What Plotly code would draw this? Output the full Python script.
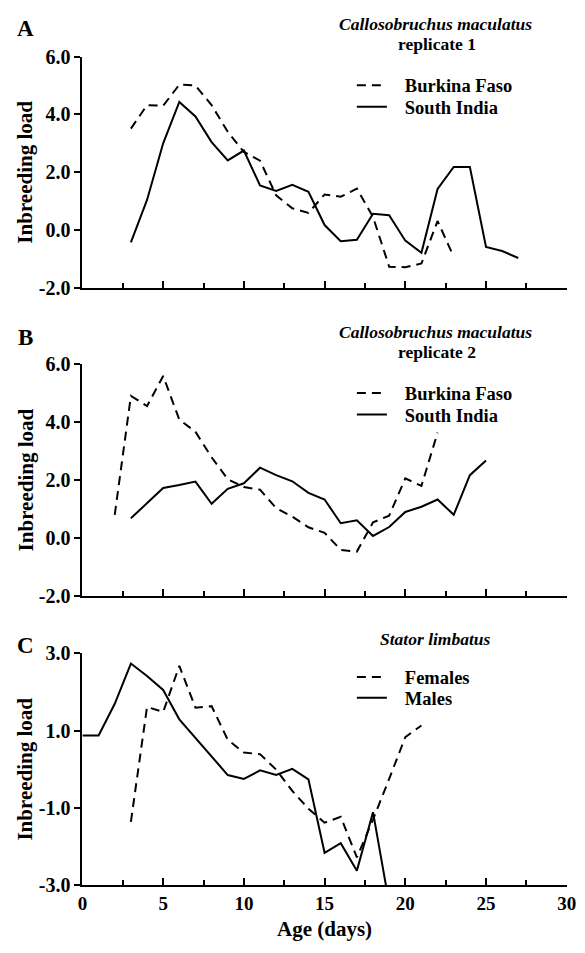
import plotly.graph_objects as go

# ---------------- data ----------------
a_bf_days = list(range(3, 24))
a_bf_vals = [3.51, 4.32, 4.30, 5.03, 5.00, 4.32, 3.40, 2.70, 2.40, 1.20, 0.75,
             0.59, 1.23, 1.15, 1.43, 0.45, -1.27, -1.29, -1.16, 0.31, -0.93]
a_si_days = list(range(3, 28))
a_si_vals = [-0.43, 1.04, 3.00, 4.43, 3.93, 3.04, 2.41, 2.75, 1.54, 1.35, 1.56,
             1.32, 0.17, -0.39, -0.34, 0.56, 0.51, -0.37, -0.79, 1.42, 2.18,
             2.18, -0.59, -0.73, -0.97]

b_bf_days = list(range(2, 23))
b_bf_vals = [0.80, 4.91, 4.56, 5.60, 4.09, 3.67, 2.79, 2.03, 1.76, 1.67, 1.03,
             0.74, 0.37, 0.18, -0.41, -0.47, 0.54, 0.77, 2.06, 1.80, 3.64]
b_si_days = list(range(3, 26))
b_si_vals = [0.68, 1.20, 1.73, 1.83, 1.95, 1.18, 1.70, 1.89, 2.43, 2.17, 1.96,
             1.56, 1.33, 0.51, 0.61, 0.07, 0.38, 0.90, 1.08, 1.33, 0.80, 2.17, 2.68]

c_f_days = list(range(3, 22))
c_f_vals = [-1.36, 1.61, 1.48, 2.67, 1.59, 1.63, 0.76, 0.43, 0.39, -0.01, -0.56,
            -1.02, -1.38, -1.23, -2.28, -1.30, -0.25, 0.83, 1.13]
c_m_days = list(range(0, 20))
c_m_vals = [0.87, 0.87, 1.69, 2.73, 2.41, 2.05, 1.29, 0.81, 0.31, -0.15, -0.25,
            -0.03, -0.15, 0.01, -0.26, -2.16, -1.91, -2.62, -1.11, -3.47]

ab_yticks = [-2, 0, 2, 4, 6]
ab_yticktext = ["-2.0", "0.0", "2.0", "4.0", "6.0"]
c_yticks = [-3, -1, 1, 3]
c_yticktext = ["-3.0", "-1.0", "1.0", "3.0"]
x_ticks = [0, 5, 10, 15, 20, 25, 30]
x_ticktext = ["0", "5", "10", "15", "20", "25", "30"]

# ---------------- layout helpers ----------------
W, H = 585, 953
FONT = "Liberation Serif"


def px(x):
    return x / W


def py(y):
    return 1 - y / H


x_dom = [px(79.5), px(576.5)]
dom_a = [py(283.3), py(46.7)]
dom_b = [py(598.7), py(361.7)]
dom_c = [py(895.0), py(657.3)]

dash = "9px,6px"
lw = 2.0
PAD = "\u2002\u2009"

fig = go.Figure()

series = [
    (a_bf_days, a_bf_vals, "Burkina Faso", dash, "x", "y", "legend"),
    (a_si_days, a_si_vals, "South India", "solid", "x", "y", "legend2"),
    (b_bf_days, b_bf_vals, "Burkina Faso", dash, "x2", "y2", "legend3"),
    (b_si_days, b_si_vals, "South India", "solid", "x2", "y2", "legend4"),
    (c_f_days, c_f_vals, "Females", dash, "x3", "y3", "legend5"),
    (c_m_days, c_m_vals, "Males", "solid", "x3", "y3", "legend6"),
]
for xs, ys, name, d, xa, ya, lg in series:
    fig.add_trace(go.Scatter(x=xs, y=ys, mode="lines", name=PAD + name,
                             line=dict(color="black", width=lw, dash=d),
                             xaxis=xa, yaxis=ya, legend=lg))

tickfont = dict(family=FONT, size=20, color="black", weight="bold")
xtickfont = dict(family=FONT, size=19, color="black", weight="bold")


def xaxis(anchor, labels):
    return dict(domain=x_dom, anchor=anchor, range=[0, 30], showline=True,
                linecolor="black", linewidth=2, showgrid=False, zeroline=False,
                ticks="inside", ticklen=7, tickwidth=2, tickcolor="black",
                tickvals=x_ticks, ticktext=x_ticktext, showticklabels=labels,
                tickfont=xtickfont, ticklabelstandoff=0, ticklabeloverflow="allow",
                minor=dict(ticks="inside", dtick=2.5, tick0=0, ticklen=5,
                           tickwidth=2, tickcolor="black"),
                fixedrange=True)


def yaxis(domain, anchor, rng, vals, text):
    return dict(domain=domain, anchor=anchor, range=rng, showline=True,
                linecolor="black", linewidth=2, showgrid=False, zeroline=False,
                ticks="outside", ticklen=6, tickwidth=2, tickcolor="black",
                tickvals=vals, ticktext=text, tickfont=tickfont,
                ticklabeloverflow="allow", fixedrange=True)


legfont = dict(family=FONT, size=18.5, color="black", weight="bold")


def legend(ytop):
    return dict(x=px(356), y=py(ytop), xanchor="left", yanchor="top",
                font=legfont, bgcolor="rgba(0,0,0,0)", itemwidth=30,
                tracegroupgap=0, borderwidth=0)


ann = []


def text(x, y, s, size=17.5, italic=False, angle=0):
    ann.append(dict(x=px(x), y=py(y), xref="paper", yref="paper", text=s,
                    showarrow=False, xanchor="center", yanchor="middle",
                    textangle=angle,
                    font=dict(family=FONT, size=size, color="black", weight="bold",
                              style="italic" if italic else "normal")))


# panel letters
text(20.8, 17.5, "A", size=23)
text(20.8, 334, "B", size=23)
text(20.8, 650, "C", size=23)
# panel titles
text(442, 13.3, "Callosobruchus maculatus", italic=True)
text(443, 34, "replicate 1")
text(442, 328.3, "Callosobruchus maculatus", italic=True)
text(443, 349.5, "replicate 2")
text(442, 643, "Stator limbatus", italic=True)
# axis titles
text(21, 165, "Inbreeding load", size=21, angle=-90)
text(21, 480, "Inbreeding load", size=21, angle=-90)
text(21, 776, "Inbreeding load", size=21, angle=-90)
text(328, 940, "Age (days)", size=21)

fig.update_layout(
    width=W, height=H,
    margin=dict(l=0, r=0, t=0, b=0),
    paper_bgcolor="white", plot_bgcolor="white",
    xaxis=xaxis("y", False),
    yaxis=yaxis(dom_a, "x", [-2, 6], ab_yticks, ab_yticktext),
    xaxis2=xaxis("y2", False),
    yaxis2=yaxis(dom_b, "x2", [-2, 6], ab_yticks, ab_yticktext),
    xaxis3=xaxis("y3", True),
    yaxis3=yaxis(dom_c, "x3", [-3, 3], c_yticks, c_yticktext),
    legend=legend(57),
    legend2=legend(79),
    legend3=legend(372),
    legend4=legend(394),
    legend5=legend(662.7),
    legend6=legend(684),
    annotations=ann,
    showlegend=True,
)

fig.write_html("out.html", config={"displayModeBar": False},
               post_script="document.body.style.margin='0';document.body.style.overflow='hidden';")
